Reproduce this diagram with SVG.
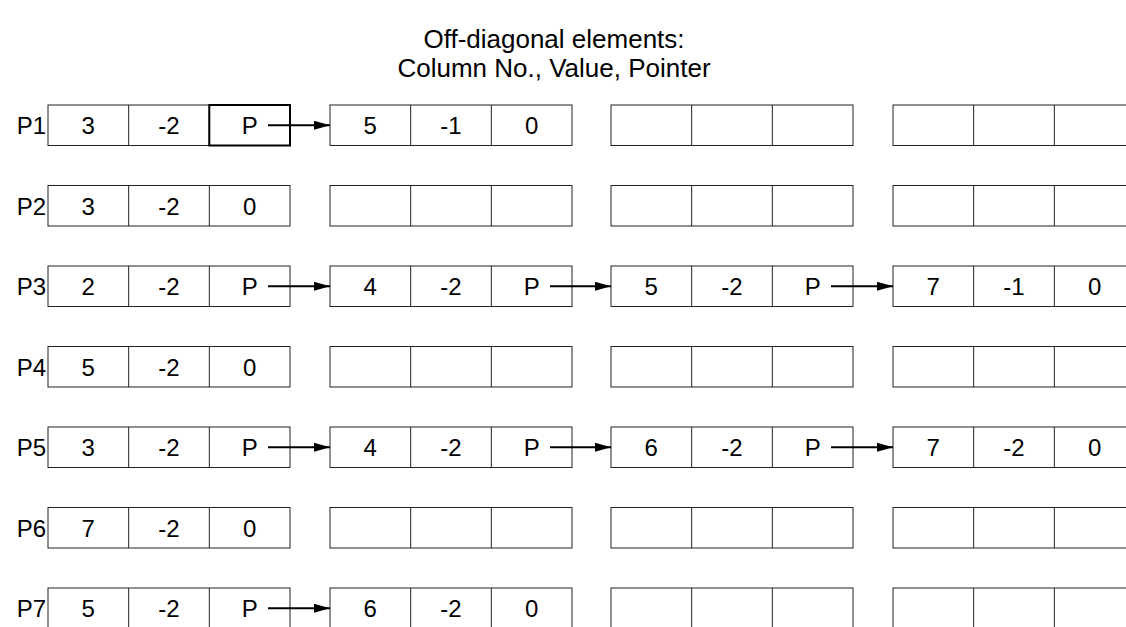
<svg xmlns="http://www.w3.org/2000/svg" width="1126" height="627" viewBox="0 0 1126 627">
<defs>
<style>
text{font-family:"Liberation Sans",Arial,sans-serif;font-size:24px;fill:#000}
.t{font-size:26px}
.c{text-anchor:middle}
.l{text-anchor:end}
.box{fill:#fff;stroke:#222;stroke-width:1}
.sep{stroke:#222;stroke-width:1}
.bold{fill:none;stroke:#000;stroke-width:2}
.arr{stroke:#000;stroke-width:2;fill:none;marker-end:url(#ah)}
</style>
<marker id="ah" viewBox="0 0 16 9" refX="16" refY="4.5" markerWidth="16" markerHeight="9" markerUnits="userSpaceOnUse" orient="auto">
<path d="M0,0 L16,4.5 L0,9 Z" fill="#000"/>
</marker>
<g id="cellgroup">
<rect class="box" x="0" y="0" width="242" height="40.5"/>
<line class="sep" x1="80.67" y1="0" x2="80.67" y2="40.5"/>
<line class="sep" x1="161.33" y1="0" x2="161.33" y2="40.5"/>
</g>
</defs>
<g id="title">
<text class="c t" x="554" y="48">Off-diagonal elements:</text>
<text class="c t" x="554" y="77">Column No., Value, Pointer</text>
</g>
<g id="row1">
<text class="l" x="46" y="134">P1</text>
<use href="#cellgroup" x="48" y="105"/>
<use href="#cellgroup" x="330" y="105"/>
<use href="#cellgroup" x="611" y="105"/>
<use href="#cellgroup" x="893" y="105"/>
<rect class="bold" x="209.3" y="105" width="80.7" height="40.5"/>
<text class="c" x="88.3" y="134">3</text><text class="c" x="169" y="134">-2</text><text class="c" x="249.7" y="134">P</text>
<text class="c" x="370.3" y="134">5</text><text class="c" x="451" y="134">-1</text><text class="c" x="531.7" y="134">0</text>
</g>
<g id="row2">
<text class="l" x="46" y="214.5">P2</text>
<use href="#cellgroup" x="48" y="185.5"/>
<use href="#cellgroup" x="330" y="185.5"/>
<use href="#cellgroup" x="611" y="185.5"/>
<use href="#cellgroup" x="893" y="185.5"/>
<text class="c" x="88.3" y="214.5">3</text><text class="c" x="169" y="214.5">-2</text><text class="c" x="249.7" y="214.5">0</text>
</g>
<g id="row3">
<text class="l" x="46" y="295">P3</text>
<use href="#cellgroup" x="48" y="266"/>
<use href="#cellgroup" x="330" y="266"/>
<use href="#cellgroup" x="611" y="266"/>
<use href="#cellgroup" x="893" y="266"/>
<text class="c" x="88.3" y="295">2</text><text class="c" x="169" y="295">-2</text><text class="c" x="249.7" y="295">P</text>
<text class="c" x="370.3" y="295">4</text><text class="c" x="451" y="295">-2</text><text class="c" x="531.7" y="295">P</text>
<text class="c" x="651.3" y="295">5</text><text class="c" x="732" y="295">-2</text><text class="c" x="812.7" y="295">P</text>
<text class="c" x="933.3" y="295">7</text><text class="c" x="1014" y="295">-1</text><text class="c" x="1094.7" y="295">0</text>
</g>
<g id="row4">
<text class="l" x="46" y="375.5">P4</text>
<use href="#cellgroup" x="48" y="346.5"/>
<use href="#cellgroup" x="330" y="346.5"/>
<use href="#cellgroup" x="611" y="346.5"/>
<use href="#cellgroup" x="893" y="346.5"/>
<text class="c" x="88.3" y="375.5">5</text><text class="c" x="169" y="375.5">-2</text><text class="c" x="249.7" y="375.5">0</text>
</g>
<g id="row5">
<text class="l" x="46" y="456">P5</text>
<use href="#cellgroup" x="48" y="427"/>
<use href="#cellgroup" x="330" y="427"/>
<use href="#cellgroup" x="611" y="427"/>
<use href="#cellgroup" x="893" y="427"/>
<text class="c" x="88.3" y="456">3</text><text class="c" x="169" y="456">-2</text><text class="c" x="249.7" y="456">P</text>
<text class="c" x="370.3" y="456">4</text><text class="c" x="451" y="456">-2</text><text class="c" x="531.7" y="456">P</text>
<text class="c" x="651.3" y="456">6</text><text class="c" x="732" y="456">-2</text><text class="c" x="812.7" y="456">P</text>
<text class="c" x="933.3" y="456">7</text><text class="c" x="1014" y="456">-2</text><text class="c" x="1094.7" y="456">0</text>
</g>
<g id="row6">
<text class="l" x="46" y="536.5">P6</text>
<use href="#cellgroup" x="48" y="507.5"/>
<use href="#cellgroup" x="330" y="507.5"/>
<use href="#cellgroup" x="611" y="507.5"/>
<use href="#cellgroup" x="893" y="507.5"/>
<text class="c" x="88.3" y="536.5">7</text><text class="c" x="169" y="536.5">-2</text><text class="c" x="249.7" y="536.5">0</text>
</g>
<g id="row7">
<text class="l" x="46" y="617">P7</text>
<use href="#cellgroup" x="48" y="588"/>
<use href="#cellgroup" x="330" y="588"/>
<use href="#cellgroup" x="611" y="588"/>
<use href="#cellgroup" x="893" y="588"/>
<text class="c" x="88.3" y="617">5</text><text class="c" x="169" y="617">-2</text><text class="c" x="249.7" y="617">P</text>
<text class="c" x="370.3" y="617">6</text><text class="c" x="451" y="617">-2</text><text class="c" x="531.7" y="617">0</text>
</g>
<g id="connectors">
<line class="arr" x1="268" y1="125.25" x2="330" y2="125.25"/>
<line class="arr" x1="268" y1="286.25" x2="330" y2="286.25"/>
<line class="arr" x1="550" y1="286.25" x2="611" y2="286.25"/>
<line class="arr" x1="831" y1="286.25" x2="893" y2="286.25"/>
<line class="arr" x1="268" y1="447.25" x2="330" y2="447.25"/>
<line class="arr" x1="550" y1="447.25" x2="611" y2="447.25"/>
<line class="arr" x1="831" y1="447.25" x2="893" y2="447.25"/>
<line class="arr" x1="268" y1="608.25" x2="330" y2="608.25"/>
</g>
</svg>
